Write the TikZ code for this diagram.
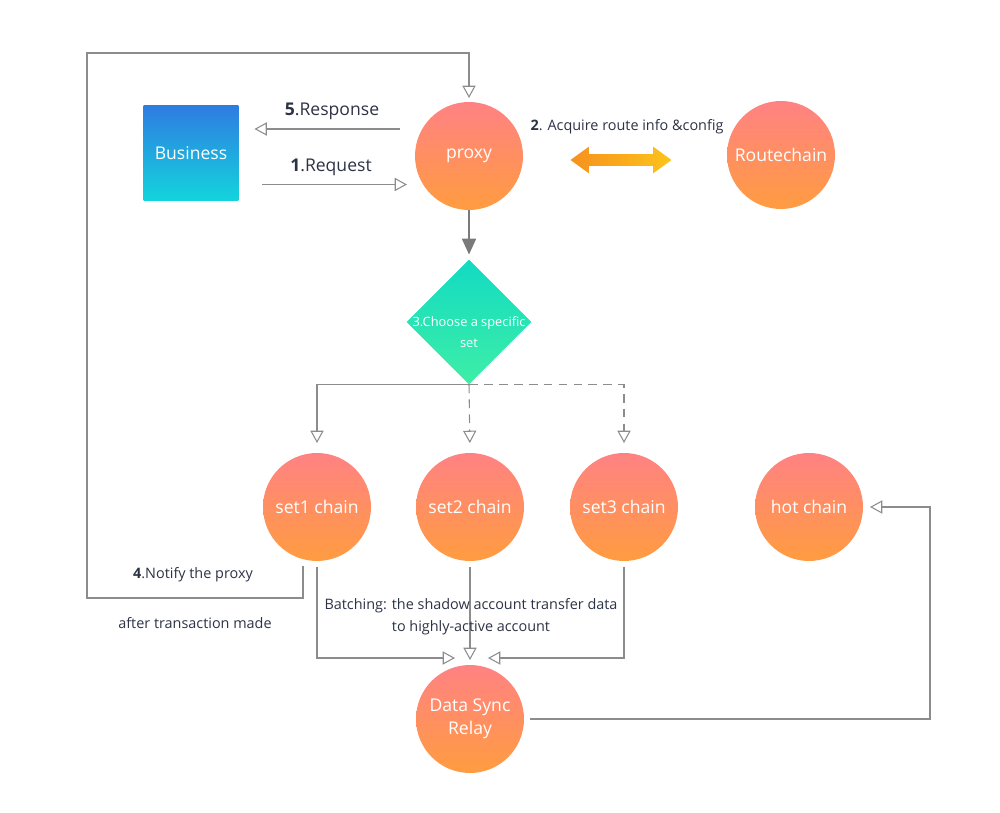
\documentclass[tikz,border=0pt]{standalone}
\usepackage{fontspec}
\setmainfont{Open Sans}
\usetikzlibrary{arrows.meta, calc, positioning, shapes.geometric, shapes.arrows}
\definecolor{chaintop}{HTML}{FF8283}
\definecolor{chainbot}{HTML}{FF9C40}
\definecolor{biztop}{HTML}{2E7CE1}
\definecolor{bizbot}{HTML}{13D4DD}
\definecolor{choicetop}{HTML}{12DBC3}
\definecolor{choicebot}{HTML}{3EEEA6}
\definecolor{syncleft}{HTML}{F7911E}
\definecolor{syncright}{HTML}{FCC41B}
\definecolor{linkgray}{HTML}{8C8C8C}
\definecolor{tipgray}{HTML}{7A7A7A}
\definecolor{labeltext}{HTML}{2D3346}

\begin{document}
\begin{tikzpicture}[
  x=0.02cm, y=-0.02cm,
  every node/.style={outer sep=0pt},
  chain/.style={circle, minimum size=2.16cm, inner sep=0pt, align=center,
    top color=chaintop, bottom color=chainbot, text=white,
    font=\fontsize{10}{13}\selectfont},
  bizbox/.style={rectangle, minimum size=1.9cm, inner sep=0pt,
    top color=biztop, bottom color=bizbot, text=white,
    font=\fontsize{10}{12}\selectfont},
  choice/.style={diamond, minimum size=2.5cm, inner sep=0pt, aspect=1,
    top color=choicetop, bottom color=choicebot},
  choicetext/.style={align=center, text=white, inner sep=0pt,
    font=\fontsize{7.3}{12}\selectfont},
  steplabel/.style={text=labeltext, inner sep=0pt,
    font=\fontsize{10}{12}\selectfont},
  notelabel/.style={text=labeltext, inner sep=0pt, align=center,
    font=\fontsize{8.2}{12.5}\selectfont},
  link/.style={linkgray, line width=0.6pt,
    -{Triangle[open, width=7.5pt, length=7pt]}},
  dashlink/.style={link, dash pattern=on 5pt off 3.5pt},
  feed/.style={tipgray, line width=0.9pt,
    -{Triangle[width=8pt, length=9pt]}}
]

\useasboundingbox (0,0) rectangle (1000,813);

% Nodes
\node[bizbox] (business) at (191,153) {Business};
\node[chain] (proxy) at (469,156) {proxy};
\node[chain] (route) at (781,155) {Routechain};
\node[choice] (choose) at (469,322) {};
\node[choicetext] (choosetext) at (469,332) {3.Choose a specific\\set};
\node[chain] (set1) at (317,507) {set1 chain};
\node[chain] (set2) at (470,507) {set2 chain};
\node[chain] (set3) at (624,507) {set3 chain};
\node[chain] (hot) at (809,507) {hot chain};
\node[chain] (dsr) at (470,719) {Data Sync\\Relay};

% Route info exchange
\node[
  double arrow,
  minimum height=2.02cm,
  minimum width=0.52cm,
  inner xsep=0pt,
  inner ysep=0.11cm,
  double arrow head extend=0.15cm,
  double arrow tip angle=72,
  left color=syncleft,
  right color=syncright
] (routearrow) at (621,160) {};
\node[notelabel] (routelabel) at (627,127) {\textbf{2}. Acquire route info \&config};

% Request and response
\coordinate (respstart) at ([xshift=-0.3cm, yshift=0.54cm]proxy.west);
\coordinate (reqstart) at ([xshift=0.48cm, yshift=-0.63cm]business.east);
\draw[link, shorten >=0.32cm] (respstart) -- (respstart -| business.east);
\draw[link, shorten >=0.16cm] (reqstart) -- (reqstart -| proxy.west);
\node[steplabel] (resplabel) at (332,111) {\textbf{5}.Response};
\node[steplabel] (reqlabel) at (331,167) {\textbf{1}.Request};

% Proxy to set choice
\draw[feed, shorten >=0.1cm] (proxy.south) -- (choose.north);

% Choice branches
\draw[link, shorten >=0.2cm] (choose.south) -| (set1.north);
\draw[dashlink, shorten >=0.2cm] (choose.south) -- (set2.north);
\draw[dashlink, shorten >=0.2cm] (choose.south) -| (set3.north);

% Notify the proxy
\draw[link, shorten <=0.1cm, shorten >=0.08cm]
  ([xshift=-0.28cm]set1.south) -- ++(0,37) -| (87,53) -| (proxy.north);
\node[notelabel] (notifylabel) at (193,575) {\textbf{4}.Notify the proxy};
\node[notelabel] (madelabel) at (195,623) {after transaction made};

% Batching into the relay
\coordinate (dsrinl) at ([xshift=-0.3cm, yshift=0.14cm]dsr.north);
\coordinate (dsrinm) at ([yshift=0.1cm]dsr.north);
\coordinate (dsrinr) at ([xshift=0.36cm, yshift=0.14cm]dsr.north);
\draw[link, shorten <=0.12cm] (set1.south) |- (dsrinl);
\draw[link, shorten <=0.12cm] (set2.south) -- (dsrinm);
\draw[link, shorten <=0.12cm] (set3.south) |- (dsrinr);
\node[notelabel] (batchlabel) at (471,617)
  {Batching: the shadow account transfer data\\to highly-active account};

% Relay to hot chain
\draw[link, shorten <=0.12cm, shorten >=0.14cm]
  (dsr.east) -| ($(hot.east)+(67,0)$) -- (hot.east);

\end{tikzpicture}
\end{document}
